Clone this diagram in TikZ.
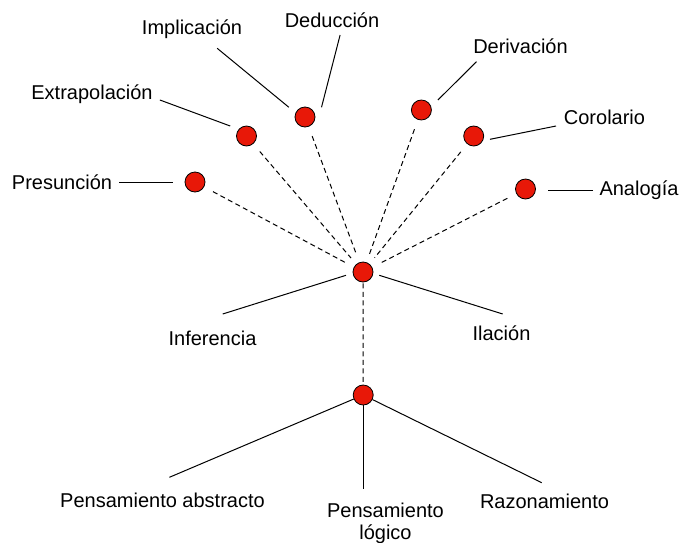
\documentclass[tikz,border=0pt]{standalone}
\usepackage{fontspec}
\setmainfont{Liberation Sans}
\definecolor{dotred}{RGB}{232,24,8}
\begin{document}
\begin{tikzpicture}[x=1pt,y=-1pt,
  dot/.style={circle,draw=black,line width=0.8pt,fill=dotred,minimum size=20pt,inner sep=0pt},
  lbl/.style={font=\fontsize{20}{22}\selectfont,inner sep=0pt,anchor=base},
  lead/.style={line width=1pt},
  dlink/.style={line width=1pt,dash pattern=on 5pt off 3.5pt}]
\useasboundingbox (0,0) rectangle (681,542);

% dots
\node[dot] (dPres) at (195,182) {};
\node[dot] (dExtr) at (246.5,136) {};
\node[dot] (dImpl) at (305,117) {};
\node[dot] (dDeri) at (421.4,110) {};
\node[dot] (dCoro) at (473.7,136) {};
\node[dot] (dAnal) at (525.5,189) {};
\node[dot] (dC) at (363,272) {};
\node[dot] (dB) at (363.2,395) {};

% labels
\node[lbl] (tImpl) at (192,34.5) {Implicación};
\node[lbl] (tDedu) at (332,27.5) {Deducción};
\node[lbl] (tExtr) at (92,99.5) {Extrapolación};
\node[lbl] (tDeri) at (520.5,53) {Derivación};
\node[lbl] (tCoro) at (604.5,124) {Corolario};
\node[lbl] (tPres) at (62,189) {Presunción};
\node[lbl] (tAnal) at (639,195) {Analogía};
\node[lbl] (tInfe) at (212.5,345) {Inferencia};
\node[lbl] (tIlac) at (501.5,340) {Ilación};
\node[lbl] (tAbs) at (162.5,507) {Pensamiento abstracto};
\node[lbl,align=center] (tLog) at (385.5,539) {Pensamiento\\lógico};
\node[lbl] (tRaz) at (544.5,508) {Razonamiento};

% leader end coordinates
\coordinate (iA) at (217.2,48.3);   \coordinate (iB) at (288.9,107.3);
\coordinate (deA) at (340.1,35);    \coordinate (deB) at (321.5,107.3);
\coordinate (eA) at (159.9,100);    \coordinate (eB) at (230.2,126);
\coordinate (drA) at (476.5,61.7);  \coordinate (drB) at (437.9,100);
\coordinate (cA) at (556,126);      \coordinate (cB) at (490,139.3);
\coordinate (pA) at (119,182);      \coordinate (pB) at (173,182);
\coordinate (aA) at (548,190);      \coordinate (aB) at (593,190);
\coordinate (inA) at (222.7,314);   \coordinate (inB) at (346,275.3);
\coordinate (ilA) at (379.3,275.3); \coordinate (ilB) at (502.7,314);
\coordinate (abE) at (169.4,477.3);
\coordinate (loE) at (363.2,489.3);
\coordinate (raE) at (541.7,482.7);

% solid leaders
\draw[lead] (iA) -- (iB);
\draw[lead] (deA) -- (deB);
\draw[lead] (eA) -- (eB);
\draw[lead] (drA) -- (drB);
\draw[lead] (cA) -- (cB);
\draw[lead] (pA) -- (pB);
\draw[lead] (aB) -- (aA);
\draw[lead] (inA) -- (inB);
\draw[lead] (ilA) -- (ilB);
\draw[lead] (dB) -- (abE);
\draw[lead] (dB) -- (loE);
\draw[lead] (dB) -- (raE);

% dashed links
\foreach \n in {dPres,dExtr,dImpl,dDeri,dCoro,dAnal}
  \draw[dlink,shorten <=10pt,shorten >=8pt] (\n) -- (dC);
\draw[dlink,shorten <=1pt,shorten >=2pt] (dC) -- (dB);
\end{tikzpicture}
\end{document}
